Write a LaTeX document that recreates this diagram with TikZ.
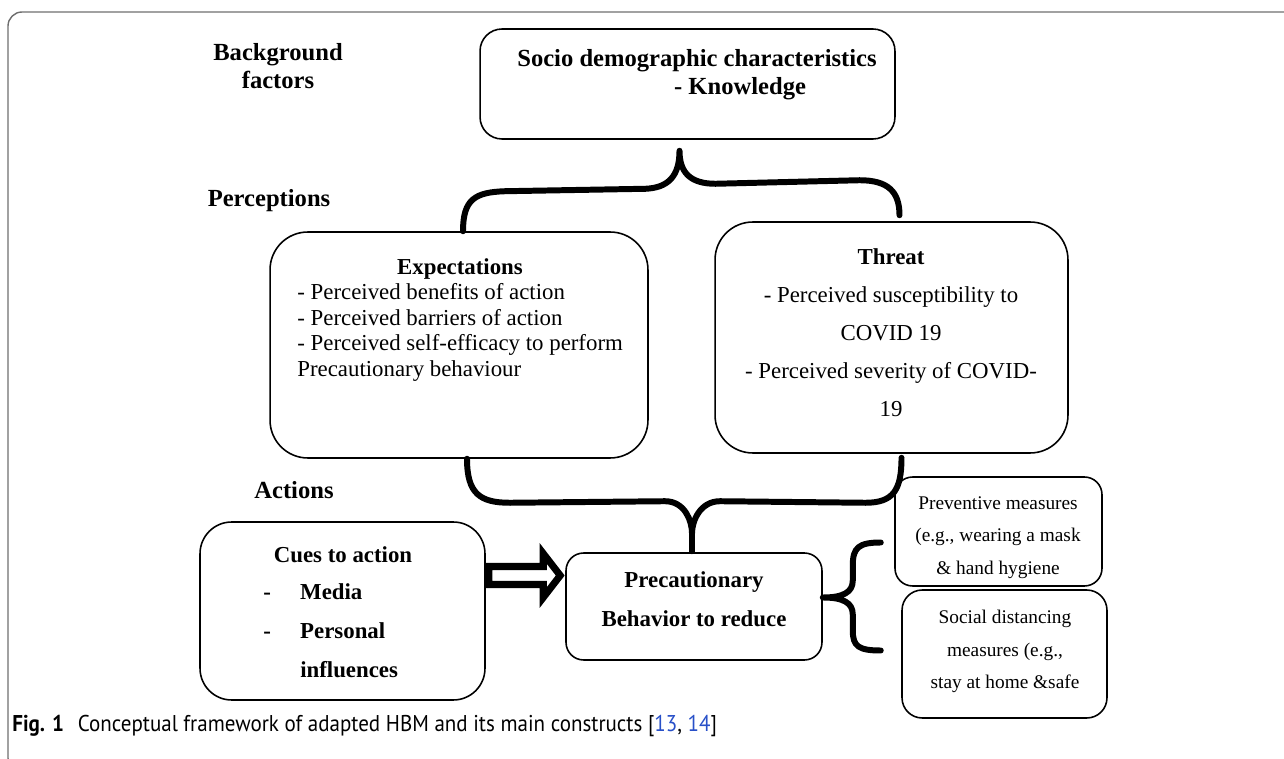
\documentclass[tikz,border=0pt]{standalone}
\usepackage{fontspec}
\setmainfont{Liberation Serif}
\newfontfamily\capfont[FakeStretch=0.92]{PT Sans}
\usetikzlibrary{calc}

\definecolor{framegray}{RGB}{110,110,110}
\definecolor{citeblue}{RGB}{40,80,200}

\tikzset{
  box/.style={draw, line width=0.9pt, rounded corners=#1, inner sep=0pt},
  brace/.style={line width=3.4pt, line cap=round, line join=round},
  hollowarrow/.style={draw, fill=white, line width=4pt, line join=miter},
  stage/.style={font=\fontsize{14}{16}\selectfont\bfseries, align=center, anchor=north, inner sep=0pt},
  body/.style={font=\fontsize{13}{#1}\selectfont, inner sep=0pt},
  boldbody/.style={font=\fontsize{13}{#1}\selectfont\bfseries, inner sep=0pt},
  smalltext/.style={font=\fontsize{11}{18.5}\selectfont, align=center, anchor=north, inner sep=0pt},
}

\begin{document}
\begin{tikzpicture}[x=0.02cm,y=-0.02cm]
  \useasboundingbox (0,0) rectangle (1284,759);
  \draw[framegray, line width=0.8pt, rounded corners=8pt] (8,12) rectangle (1300,772);

  % stages
  \node[stage] (background) at (278,43) {Background\\factors};
  \node[stage] (perceptions) at (269,189) {Perceptions};
  \node[stage] (actions) at (294,481) {Actions};

  % boxes
  \node[box=12.5pt, minimum width=8.3cm, minimum height=2.2cm] (socio) at (687.5,84) {};
  \node[box=21.5pt, minimum width=7.56cm, minimum height=4.52cm] (expect) at (459,345) {};
  \node[box=21.5pt, minimum width=7.06cm, minimum height=4.62cm] (threat) at (891.5,337.5) {};
  \node[box=18pt, minimum width=5.7cm, minimum height=3.56cm] (cues) at (342.5,611) {};
  \node[box=10pt, minimum width=5.12cm, minimum height=2.14cm] (prec) at (694,606.5) {};
  \node[box=10pt, minimum width=4.14cm, minimum height=2.18cm] (prevent) at (998.5,531.5) {};
  \node[box=11.5pt, minimum width=4.1cm, minimum height=2.56cm] (social) at (1004.5,654) {};

  % texts
  \node[stage] (sociotext) at (697,49)
    {Socio demographic characteristics\\\hspace*{49pt}- Knowledge};
  \node[boldbody=14.5, anchor=north] (expecthead) at (460,258.5) {Expectations};
  \node[body=14.5, align=left, anchor=north west] (expectlist) at (297,283.5)
    {- Perceived benefits of action\\- Perceived barriers of action\\- Perceived self-efficacy to perform\\Precautionary behaviour};
  \node[body=21.6, align=center, anchor=north] (threattext) at (891,248.5)
    {\textbf{Threat}\\- Perceived susceptibility to\\COVID 19\\- Perceived severity of COVID-\\19};
  \node[boldbody=22, anchor=north] (cueshead) at (343,546.5) {Cues to action};
  \node[boldbody=22, align=left, anchor=north west] (cueslist) at (263,583.5)
    {\makebox[21pt][l]{-}Media\\\makebox[21pt][l]{-}Personal\\\hspace*{21pt}influences};
  \node[boldbody=22.2, align=center, anchor=north] (prectext) at (694,571.5)
    {Precautionary\\Behavior to reduce};
  \node[smalltext] (preventtext) at (998,496) {Preventive measures\\(e.g., wearing a mask\\\& hand hygiene};
  \node[smalltext] (socialtext) at (1005,610) {Social distancing\\measures (e.g.,\\stay at home \&safe};

  % braces
  \coordinate (ul) at ($(expect.north)+(4,0)$);
  \coordinate (ut) at ($(socio.south)+(-8,11)$);
  \coordinate (ur) at ($(threat.north)+(8,-6)$);
  \draw[brace] (ul) .. controls +(0,-32) and +(-30,1) .. ($(ul)+(42,-40)$)
    -- ($(ut)+(-34,38)$) .. controls +(23,-1) and +(0,25) .. (ut)
    .. controls +(0,22) and +(-25,0) .. ($(ut)+(36,33)$)
    -- ($(ur)+(-40,-35)$) .. controls +(28,0) and +(0,-24) .. (ur);

  \coordinate (ll) at ($(expect.south)+(8,0)$);
  \coordinate (lt) at ($(prec.north)+(-2,-1)$);
  \coordinate (lr) at ($(threat.south)+(10,4)$);
  \draw[brace] (ll) .. controls +(0,35) and +(-30,0) .. ($(ll)+(43,44)$)
    -- ($(lt)+(-27,-50)$) .. controls +(20,0) and +(0,-12) .. ($(lt)+(0,-18)$)
    .. controls +(0,-12) and +(-20,0) .. ($(lt)+(28,-50)$)
    -- ($(lr)+(-36,45)$) .. controls +(28,0) and +(0,32) .. (lr);
  \draw[brace] ($(lt)+(0,-18)$) -- (lt);

  \coordinate (rc) at ($(prec.east)+(0,-9)$);
  \coordinate (rt) at ($(rc)+(58,-55)$);
  \coordinate (rb) at ($(rc)+(58,53)$);
  \draw[brace] (rt) .. controls +(-22,0) and +(0,-18) .. ($(rc)+(30,-32)$)
    -- ($(rc)+(30,-17)$) .. controls +(0,12) and +(20,0) .. (rc)
    .. controls +(20,0) and +(0,-12) .. ($(rc)+(30,17)$)
    -- ($(rc)+(30,33)$) .. controls +(0,16) and +(-22,0) .. (rb);

  % hollow arrow
  \coordinate (tip) at ($(prec.west)+(-5,-31)$);
  \draw[hollowarrow] ($(cues.east |- tip)+(3,-9)$) -- ($(tip)+(-17,-9)$) -- ($(tip)+(-17,-22)$)
    -- (tip) -- ($(tip)+(-17,22)$) -- ($(tip)+(-17,9)$) -- ($(cues.east |- tip)+(3,9)$) -- cycle;

  % caption
  \node[anchor=base west, inner sep=0pt, font=\capfont\fontsize{13}{15}\selectfont] (caption) at (12,731)
    {\textbf{Fig. 1}\hspace{0.6em}Conceptual framework of adapted HBM and its main constructs [\textcolor{citeblue}{13}, \textcolor{citeblue}{14}]};
\end{tikzpicture}
\end{document}
